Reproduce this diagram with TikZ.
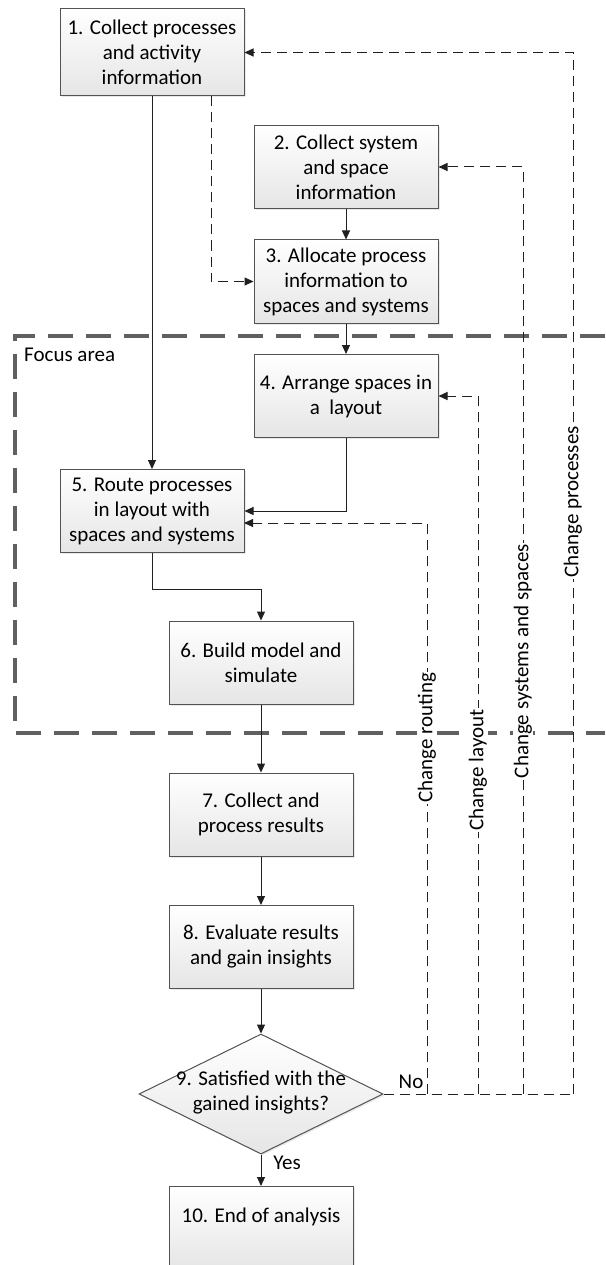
\documentclass[tikz,border=0pt]{standalone}
\usepackage{fontspec}
\setmainfont{Carlito}
\usetikzlibrary{arrows.meta,shapes.geometric,shadows}
\begin{document}
\begin{tikzpicture}[x=1pt,y=-1pt,
  font=\fontsize{21}{25}\selectfont,
  proc/.style={draw=gray!65!black, line width=1pt, top color=white, bottom color=gray!20,
    minimum width=184pt, minimum height=83pt, align=center, inner sep=2pt,
    drop shadow={opacity=0.18,shadow xshift=1.5pt,shadow yshift=-1.5pt}},
  flow/.style={draw=gray!25!black, line width=1pt, -{Triangle[length=9pt,width=8pt]}},
  fb/.style={flow, dash pattern=on 10pt off 6pt},
  fbl/.style={draw=gray!25!black, line width=1pt, dash pattern=on 10pt off 6pt},
  lbl/.style={fill=white, inner sep=1pt, rotate=90},
  focus/.style={draw=gray!75!black, line width=4pt, dash pattern=on 25pt off 13pt}]
\useasboundingbox (0,0) rectangle (605,1265);
\clip (0,0) rectangle (605,1265);

% focus area
\draw[focus] (605,336) -- (15,336) -- (15,733) -- (605,733);
\node[anchor=west, inner sep=0pt] (fa) at (24,355) {Focus area};

% boxes
\node[proc, minimum height=87pt] (b1) at (152,52.5) {1. Collect processes\\and activity\\information};
\node[proc] (b2) at (346,167) {2. Collect system\\and space\\information};
\node[proc] (b3) at (346,281.5) {3. Allocate process\\information to\\spaces and systems};
\node[proc] (b4) at (346,396) {4. Arrange spaces in\\a\ \ layout};
\node[proc] (b5) at (152,511) {5. Route processes\\in layout with\\spaces and systems};
\node[proc] (b6) at (261,662.5) {6. Build model and\\simulate};
\node[proc] (b7) at (261,814.5) {7. Collect and\\process results};
\node[proc] (b8) at (261,947) {8. Evaluate results\\and gain insights};
\node[diamond, draw=gray!65!black, line width=1pt, top color=white, bottom color=gray!20,
  minimum width=244pt, minimum height=120pt, inner sep=0pt,
  drop shadow={opacity=0.18,shadow xshift=1.5pt,shadow yshift=-1.5pt}] (b9) at (261,1094) {};
\node[align=center, inner sep=0pt] (t9) at (261,1093) {9. Satisfied with the\\gained insights?};
\node[proc] (b10) at (261,1228) {10. End of analysis\\[0pt]~};

% coordinates for feedback lines
\coordinate (d1) at (211,0);
\coordinate (cr) at (427,1094);
\coordinate (cl) at (478,1094);
\coordinate (cs) at (523,1094);
\coordinate (cp) at (573,1094);
\coordinate (r5) at (244,523);

% main flow
\draw[flow] (b1.south) -- (b5.north);
\draw[fb] (b1.south -| d1) |- (b3.west);
\draw[flow] (b2) -- (b3);
\draw[flow] (b3) -- (b4);
\draw[flow] (b4.south) |- (b5.east);
\draw[flow] (b5.south) -- ++(0,36) -| (b6.north);
\draw[flow] (b6) -- (b7);
\draw[flow] (b7) -- (b8);
\draw[flow] (b8) -- (b9);
\draw[flow] (b9) -- (b10);

% feedback
\draw[fbl] (b9.east) -- (cp);
\draw[fb] (cp) -- (cp |- b1.east) -- (b1.east);
\draw[fb] (cs) -- (cs |- b2.east) -- (b2.east);
\draw[fb] (cl) -- (cl |- b4.east) -- (b4.east);
\draw[fb] (cr) -- (cr |- r5) -- (r5);

% labels
\node[lbl] (lr) at (427,738) {Change routing};
\node[lbl] (ll) at (478,770) {Change layout};
\node[lbl] (ls) at (523,661) {Change systems and spaces};
\node[lbl] (lp) at (573,502) {Change processes};
\node (no) at (411,1082) {No};
\node (yes) at (287,1163) {Yes};
\end{tikzpicture}
\end{document}
